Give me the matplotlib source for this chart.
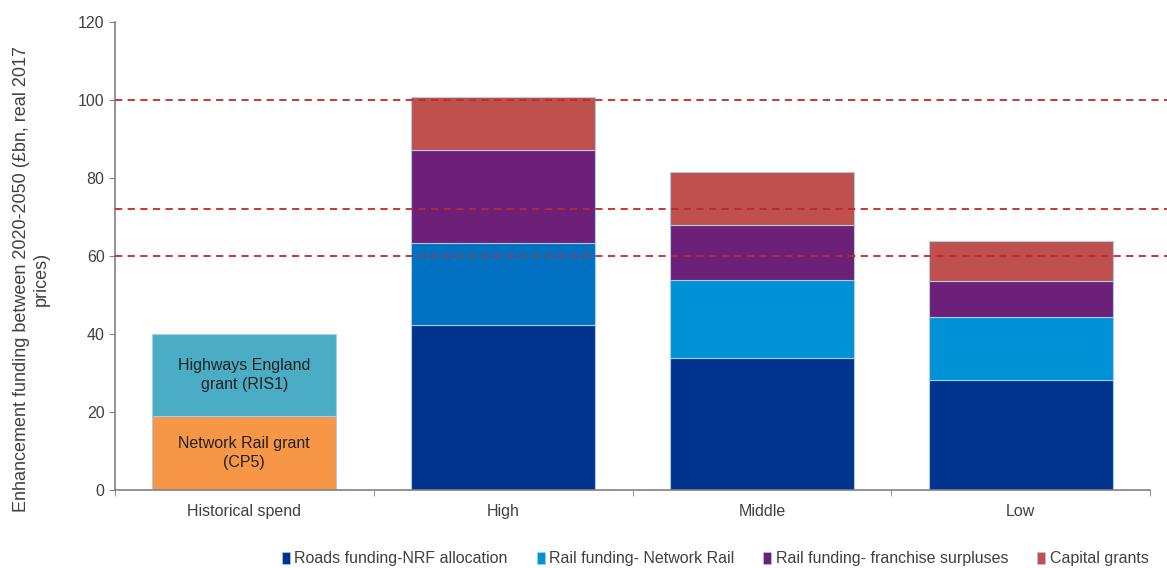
import numpy as np
import matplotlib.pyplot as plt
from matplotlib.patches import Patch

plt.rcParams['font.family'] = ['Liberation Sans', 'DejaVu Sans']

# Enhancement funding 2020-2050, £bn real 2017 prices
scenarios = ["Historical spend", "High", "Middle", "Low"]

hist_network_rail = 19
hist_highways = 21

roads_nrf = [42.3, 33.8, 28.2]
rail_network_rail = [21.0, 20.0, 16.2]
rail_franchise = [23.9, 14.1, 9.2]
capital_grants = [13.6, 13.6, 10.2]

reference_levels = [100, 72, 60]

legend_labels = ["Roads funding-NRF allocation", "Rail funding- Network Rail",
                 "Rail funding- franchise surpluses", "Capital grants"]

C_ROADS = "#00338D"
C_RAIL = "#0092D7"
C_RAIL_HIGH = "#0070C0"
C_FRANCHISE = "#6D2077"
C_CAPITAL = "#C0504D"
C_ORANGE = "#F79646"
C_TEAL = "#4BACC6"
TXT = "#404040"

fig = plt.figure(figsize=(11.67, 5.68), dpi=100)
ax = fig.add_axes([0.0985, 0.1373, 0.887, 0.824])

x = np.arange(len(scenarios))
w = 0.71
edge = dict(edgecolor="#A9CCE8", linewidth=0.8)

# historical spend split into the two grants
ax.bar(x[0], hist_network_rail, w, color=C_ORANGE, **edge)
ax.bar(x[0], hist_highways, w, bottom=hist_network_rail, color=C_TEAL, **edge)
ax.text(x[0], hist_network_rail / 2, "Network Rail grant\n(CP5)",
        ha="center", va="center", fontsize=11.5, color="#222222", linespacing=1.3)
ax.text(x[0], hist_network_rail + hist_highways / 2, "Highways England\ngrant (RIS1)",
        ha="center", va="center", fontsize=11.5, color="#222222", linespacing=1.3)

# future scenarios, stacked
xs = x[1:]
rail_colors = [C_RAIL_HIGH, C_RAIL, C_RAIL]
b1 = np.array(roads_nrf)
b2 = b1 + np.array(rail_network_rail)
b3 = b2 + np.array(rail_franchise)
ax.bar(xs, roads_nrf, w, color=C_ROADS, **edge)
ax.bar(xs, rail_network_rail, w, bottom=b1, color=rail_colors, **edge)
ax.bar(xs, rail_franchise, w, bottom=b2, color=C_FRANCHISE, **edge)
ax.bar(xs, capital_grants, w, bottom=b3, color=C_CAPITAL, **edge)

# dashed reference levels, running past the end of the axis
for lvl in reference_levels:
    ax.plot([0, 1.03], [lvl, lvl], transform=ax.get_yaxis_transform(),
            color="#C0282B", linestyle=(0, (4, 3)), linewidth=1.3,
            clip_on=False, zorder=3)

ax.set_xlim(-0.5, len(scenarios) - 0.5)
ax.set_ylim(0, 120)
ax.set_yticks(np.arange(0, 121, 20))
ax.set_xticks(x)
ax.set_xticklabels(scenarios, fontsize=11.5, color=TXT)
ax.set_xticks(np.arange(-0.5, len(scenarios)), minor=True)
ax.tick_params(axis="x", which="major", length=0, pad=10)
ax.tick_params(axis="x", which="minor", length=4, color="#808080")
ax.tick_params(axis="y", labelsize=11.5, colors=TXT, length=4)
ax.tick_params(axis="y", color="#808080")

for side in ("top", "right"):
    ax.spines[side].set_visible(False)
for side in ("left", "bottom"):
    ax.spines[side].set_color("#808080")
    ax.spines[side].set_linewidth(1.2)

ax.set_ylabel("Enhancement funding between 2020-2050 (£bn, real 2017\nprices)",
              fontsize=13, color=TXT)
ax.yaxis.set_label_coords(-0.063, 0.45)

handles = [Patch(facecolor=c, edgecolor="#A9CCE8", linewidth=0.5)
           for c in (C_ROADS, C_RAIL, C_FRANCHISE, C_CAPITAL)]
fig.legend(handles, legend_labels, loc="center", bbox_to_anchor=(0.613, 0.016),
           ncol=4, frameon=False, fontsize=11.5, handlelength=0.5, handleheight=0.8,
           handletextpad=0.3, columnspacing=1.8, labelcolor=TXT)

fig.savefig("out.png", dpi=100)
